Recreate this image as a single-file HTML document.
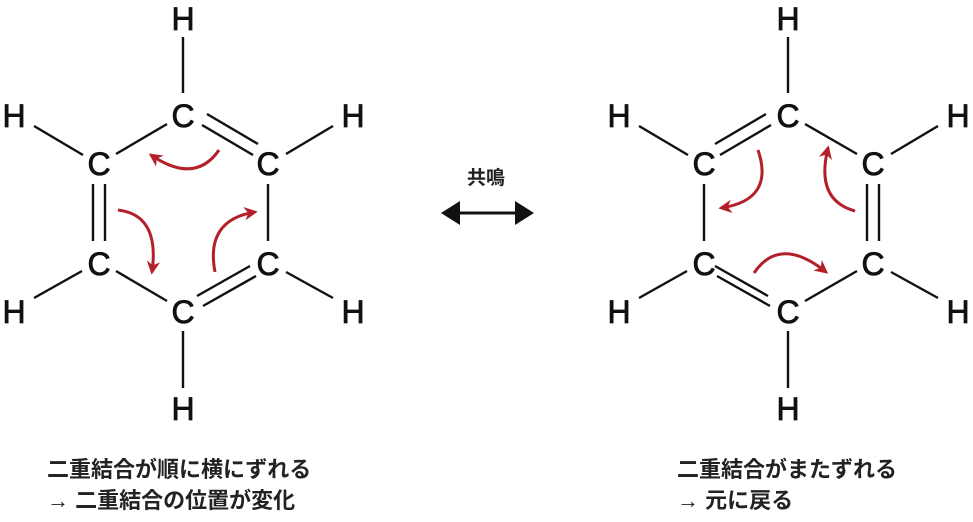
<!DOCTYPE html>
<html><head><meta charset="utf-8"><style>
html,body{margin:0;padding:0;background:#fff;}
svg{display:block}
.a{font-family:"Liberation Sans",sans-serif;font-size:32px;fill:#111;stroke:#111;stroke-width:0.8px;text-anchor:middle}
.j{font-family:"Liberation Sans","Noto Sans CJK JP",sans-serif;font-size:22px;font-weight:bold;fill:#222}
</style></head><body>
<svg width="973" height="522" viewBox="0 0 973 522" xmlns="http://www.w3.org/2000/svg">
<defs>
<marker id="m" viewBox="0 0 10 10" refX="8" refY="5" markerWidth="4.5" markerHeight="4.5" orient="auto"><path d="M0,0 L10,5 L0,10 L3,5 z" fill="#b3202a"/></marker>
</defs>
<g id="L">
<g stroke="#111" stroke-width="2.4" fill="none">
<line x1="183" y1="37" x2="183" y2="93"/>
<line x1="34" y1="126" x2="83" y2="155"/>
<line x1="116" y1="154" x2="167" y2="124"/>
<line x1="286" y1="154" x2="333" y2="126"/>
<line x1="34" y1="298" x2="82" y2="271"/>
<line x1="116" y1="271" x2="167" y2="301"/>
<line x1="286" y1="272" x2="333" y2="298"/>
<line x1="183" y1="331" x2="183" y2="388"/>
<line x1="207" y1="114" x2="258" y2="144"/>
<line x1="202" y1="125" x2="253" y2="155"/>
<line x1="93" y1="184" x2="93" y2="241"/>
<line x1="105" y1="184" x2="105" y2="241"/>
<line x1="268" y1="184" x2="268" y2="241"/>
<line x1="197" y1="296" x2="250" y2="266"/>
<line x1="203" y1="306" x2="256" y2="276"/>
</g>
<g stroke="#b3202a" stroke-width="3" fill="none" marker-end="url(#m)">
<path d="M219,150 Q195,185 151,155"/>
<path d="M118,210 Q160,215 152,272"/>
<path d="M215,272 Q205,220 255,212"/>
</g>
<text class="a" x="183" y="30">H</text>
<text class="a" x="14" y="127">H</text>
<text class="a" x="353" y="127">H</text>
<text class="a" x="14" y="323">H</text>
<text class="a" x="353" y="323">H</text>
<text class="a" x="183" y="420">H</text>
<text class="a" x="183" y="127">C</text>
<text class="a" x="99" y="175">C</text>
<text class="a" x="268" y="175">C</text>
<text class="a" x="99" y="275">C</text>
<text class="a" x="268" y="275">C</text>
<text class="a" x="183" y="323">C</text>
</g>
<g transform="translate(605,0)">
<g stroke="#111" stroke-width="2.4" fill="none">
<line x1="183" y1="37" x2="183" y2="93"/>
<line x1="34" y1="126" x2="83" y2="155"/>
<line x1="200" y1="124" x2="252" y2="154"/>
<line x1="286" y1="154" x2="333" y2="126"/>
<line x1="34" y1="298" x2="82" y2="271"/>
<line x1="200" y1="301" x2="252" y2="271"/>
<line x1="286" y1="272" x2="333" y2="298"/>
<line x1="183" y1="331" x2="183" y2="388"/>
<line x1="161" y1="114" x2="110" y2="144"/>
<line x1="166" y1="125" x2="115" y2="155"/>
<line x1="99" y1="184" x2="99" y2="241"/>
<line x1="262" y1="184" x2="262" y2="241"/>
<line x1="274" y1="184" x2="274" y2="241"/>
<line x1="110" y1="266" x2="163" y2="296"/>
<line x1="112" y1="276" x2="165" y2="306"/>
</g>
<g stroke="#b3202a" stroke-width="3" fill="none" marker-end="url(#m)">
<path d="M153,150 Q170,200 116,208"/>
<path d="M250,211 Q210,200 223,148"/>
<path d="M149,273 Q175,235 221,272"/>
</g>
<text class="a" x="183" y="30">H</text>
<text class="a" x="14" y="127">H</text>
<text class="a" x="353" y="127">H</text>
<text class="a" x="14" y="323">H</text>
<text class="a" x="353" y="323">H</text>
<text class="a" x="183" y="420">H</text>
<text class="a" x="183" y="127">C</text>
<text class="a" x="99" y="175">C</text>
<text class="a" x="268" y="175">C</text>
<text class="a" x="99" y="275">C</text>
<text class="a" x="268" y="275">C</text>
<text class="a" x="183" y="323">C</text>
</g>
<text class="j" x="486" y="184" text-anchor="middle" style="font-size:19px">共鳴</text>
<line x1="455" y1="213" x2="520" y2="213" stroke="#111" stroke-width="3"/>
<path d="M441,213 L460,201 L460,225 z" fill="#111"/>
<path d="M534,213 L515,201 L515,225 z" fill="#111"/>
<text class="j" x="47" y="477">二重結合が順に横にずれる</text>
<text class="j" x="47" y="508"><tspan style="font-weight:normal">→</tspan> 二重結合の位置が変化</text>
<text class="j" x="677" y="477">二重結合がまたずれる</text>
<text class="j" x="677" y="508"><tspan style="font-weight:normal">→</tspan> 元に戻る</text>
</svg>
</body></html>
